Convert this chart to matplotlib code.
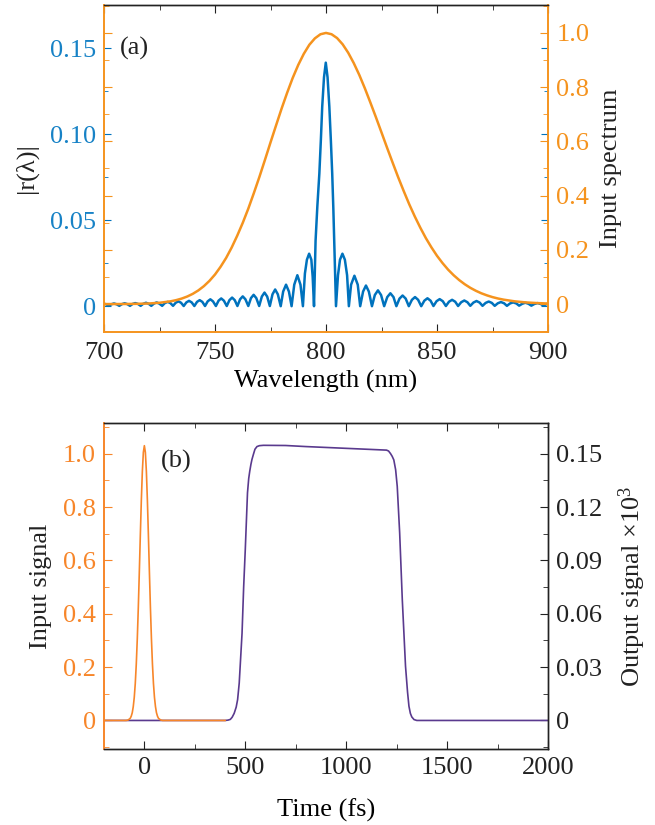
import matplotlib
matplotlib.use("Agg")
import matplotlib.pyplot as plt
from matplotlib.ticker import MultipleLocator

plt.rcParams['font.family'] = ['Liberation Serif', 'DejaVu Serif']
plt.rcParams['mathtext.fontset'] = 'custom'
plt.rcParams['mathtext.rm'] = 'Liberation Serif'
plt.rcParams['mathtext.it'] = 'Liberation Serif:italic'

# ---------------- data: panel (a) ----------------
refl_wl = [700.0, 701.0, 702.1, 703.3, 704.5, 705.7, 706.9, 708.1, 709.3, 710.5,
           711.7, 712.9, 714.1, 715.3, 716.5, 717.7, 718.9, 720.1, 721.3, 722.5,
           723.7, 724.9, 726.2, 727.4, 728.7, 729.9, 731.1, 732.3, 733.5, 734.7,
           735.9, 737.1, 738.3, 739.5, 740.7, 741.9, 743.1, 744.3, 745.5, 746.7,
           747.9, 749.1, 750.4, 751.6, 752.8, 754.0, 755.3, 756.5, 757.7, 758.9,
           760.1, 761.3, 762.5, 763.7, 765.0,
           766.2, 767.4, 768.6, 769.9, 771.1, 772.3, 773.5, 774.7,
           775.9, 777.1, 778.3, 779.6, 780.7, 782.0, 783.3, 784.5,
           785.7, 787.1, 788.5, 789.6, 790.5, 791.4, 792.4, 793.4, 794.0, 794.6,
           795.3, 796.1, 797.0, 797.7, 798.3, 799.1, 799.9, 800.7, 801.5, 802.2,
           802.8, 803.3, 803.7, 804.5,
           805.4, 806.3, 807.4, 808.5, 809.5, 810.3, 811.3, 812.8, 814.3, 815.4,
           816.7, 818.0, 819.3, 820.7, 822.0, 823.4, 824.8, 826.2,
           827.6, 829.0, 830.4, 831.7, 833.1, 834.5, 835.9, 837.3,
           838.7, 840.1, 841.5, 842.9, 844.3, 845.7, 847.1, 848.4,
           849.8, 851.2, 852.6, 854.0, 855.4, 856.8, 858.2, 859.5,
           860.9, 862.3, 863.7, 865.0, 866.4, 867.8, 869.2, 870.5,
           871.9, 873.3, 874.7, 876.0, 877.4, 878.8, 880.2, 881.5,
           882.9, 884.3, 885.7, 887.0, 888.4, 889.8, 891.2, 892.5,
           893.9, 895.3, 896.7, 898.0, 899.0, 900.0]
refl_val = [0.0014, 0.0011, 0.0002, 0.0011, 0.0016, 0.0011, 0.0002, 0.0012, 0.0017, 0.0012,
            0.0002, 0.0013, 0.0018, 0.0013, 0.0002, 0.0014, 0.0020, 0.0014, 0.0002, 0.0015,
            0.0022, 0.0015, 0.0002, 0.0018, 0.0025, 0.0018, 0.0002, 0.0020, 0.0028, 0.0020,
            0.0001, 0.0022, 0.0031, 0.0022, 0.0001, 0.0025, 0.0035, 0.0025, 0.0001, 0.0028,
            0.0040, 0.0028, 0.0001, 0.0032, 0.0045, 0.0032, 0.0001, 0.0035, 0.0050, 0.0035,
            0.0001, 0.0040, 0.0057, 0.0040, 0.0001,
            0.0047, 0.0066, 0.0047, 0.0001, 0.0056, 0.0079, 0.0056, 0.0001,
            0.0069, 0.0097, 0.0069, 0.0, 0.0085, 0.0125, 0.0085, 0.0,
            0.0125, 0.0180, 0.0125, 0.0, 0.019, 0.027, 0.0305, 0.027, 0.017, 0.0,
            0.038, 0.058, 0.077, 0.097, 0.116, 0.133, 0.1415, 0.133, 0.116, 0.096,
            0.077, 0.057, 0.038, 0.0,
            0.018, 0.027, 0.0305, 0.027, 0.018, 0.0, 0.0125, 0.0177, 0.0125, 0.0,
            0.0085, 0.0120, 0.0085, 0.0, 0.0065, 0.0092, 0.0065, 0.0,
            0.0053, 0.0075, 0.0053, 0.0, 0.0044, 0.0062, 0.0044, 0.0,
            0.0037, 0.0053, 0.0037, 0.0, 0.0032, 0.0046, 0.0032, 0.0001,
            0.0029, 0.0041, 0.0029, 0.0001, 0.0026, 0.0037, 0.0026, 0.0001,
            0.0023, 0.0033, 0.0023, 0.0002, 0.0021, 0.0030, 0.0021, 0.0002,
            0.0019, 0.0027, 0.0019, 0.0002, 0.0017, 0.0024, 0.0017, 0.0002,
            0.0016, 0.0022, 0.0016, 0.0003, 0.0014, 0.0020, 0.0014, 0.0003,
            0.0013, 0.0018, 0.0013, 0.0003, 0.0010, 0.0014]

spec_wl = [700, 705, 710, 715, 720, 725, 730, 732.5, 735, 737.5, 740, 742.5, 745, 747.5,
           750, 752.5, 755, 757.5, 760, 762.5, 765, 767.5, 770, 772.5, 775, 777.5,
           780, 782.5, 785, 787.5, 790, 792.5, 795, 797.5, 800, 802.5, 805, 807.5,
           810, 812.5, 815, 817.5, 820, 822.5, 825, 827.5, 830, 832.5, 835, 837.5,
           840, 842.5, 845, 847.5, 850, 852.5, 855, 857.5, 860, 862.5, 865, 867.5,
           870, 872.5, 875, 877.5, 880, 885, 890, 895, 900]
spec_val = [0.0000, 0.0001, 0.0003, 0.0009, 0.0021, 0.0048, 0.0102, 0.0145, 0.0203, 0.0279,
            0.0378, 0.0504, 0.0662, 0.0856, 0.109, 0.1374, 0.170, 0.2084, 0.252, 0.2996,
            0.352, 0.4093, 0.469, 0.5318, 0.596, 0.6589, 0.721, 0.7794, 0.834, 0.8820,
            0.923, 0.9564, 0.980, 0.9951, 1.000, 0.9952, 0.981, 0.958, 0.927, 0.8888,
            0.845, 0.7958, 0.743, 0.6888, 0.633, 0.5768, 0.522, 0.468, 0.417, 0.368,
            0.323, 0.2814, 0.243, 0.2090, 0.178, 0.1511, 0.127, 0.1064, 0.0885, 0.0731,
            0.060, 0.0490, 0.0397, 0.0321, 0.0257, 0.0205, 0.0163, 0.0101, 0.0061, 0.0037,
            0.0021]

# ---------------- data: panel (b) ----------------
in_t = [-200, -90, -80, -70, -65, -60, -55, -50, -45, -40, -35, -30, -25, -20, -15, -10, -5, 0,
        5, 10, 15, 20, 25, 30, 35, 40, 45, 50, 55, 60, 65, 70, 80, 90, 400]
in_val = [0.0, 0.0, 0.002, 0.008, 0.016, 0.029, 0.052, 0.087, 0.139, 0.212, 0.307, 0.423,
          0.556, 0.694, 0.825, 0.933, 1.005, 1.030,
          1.005, 0.933, 0.825, 0.694, 0.556, 0.423, 0.307, 0.212, 0.139, 0.087, 0.052,
          0.029, 0.016, 0.008, 0.002, 0.0, 0.0]

out_t = [-200, 400, 415, 426, 435, 445, 455, 462, 470, 477, 484, 492, 500, 511, 517, 522,
         528, 533, 540, 548, 558, 570, 590,
         700, 800, 900, 1000, 1100, 1200, 1210, 1220, 1228, 1236, 1245, 1253, 1265, 1278,
         1294, 1304, 1311, 1318, 1325, 1336, 1350, 2000]
out_val = [0.0, 0.0, 0.0002, 0.0006, 0.0018, 0.004, 0.0075, 0.0117, 0.021, 0.035, 0.049,
           0.075, 0.096, 0.128, 0.136, 0.140, 0.1440, 0.1467, 0.1495, 0.1525, 0.1540,
           0.1545, 0.1547,
           0.1546, 0.1540, 0.1535, 0.1530, 0.1525, 0.1520, 0.1515, 0.1500, 0.1485, 0.1465,
           0.1410, 0.1316, 0.1055, 0.068, 0.0305, 0.016, 0.008, 0.004, 0.002, 0.0005, 0.0,
           0.0]

BLUE = '#0072BD'
BLUE_TXT = '#1782C6'
ORANGE = '#F5931E'
ORANGE2 = '#F7862A'
PURPLE = '#5A3A8E'
FS = 19

fig = plt.figure(figsize=(6.55, 8.25), dpi=100)

# ---------------- panel (a) ----------------
ax1 = fig.add_axes([104/655, 1-332/825, 444/655, 327/825])
ax2 = ax1.twinx()
ax1.plot(refl_wl, refl_val, color=BLUE, lw=1.8, zorder=2)
ax2.plot(spec_wl, spec_val, color=ORANGE, lw=1.8, zorder=3)
ax1.set_xlim(700, 900)
ax1.set_ylim(-0.015, 0.175)
ax2.set_ylim(-0.103, 1.103)
ax1.xaxis.set_major_locator(MultipleLocator(50))
ax1.xaxis.set_minor_locator(MultipleLocator(25))
ax1.yaxis.set_minor_locator(MultipleLocator(0.025))
ax2.yaxis.set_minor_locator(MultipleLocator(0.1))
ax1.set_yticks([0, 0.05, 0.10, 0.15])
ax1.set_yticklabels(['0', '0.05', '0.10', '0.15'])
ax2.set_yticks([0, 0.2, 0.4, 0.6, 0.8, 1.0])
ax2.set_yticklabels(['0', '0.2', '0.4', '0.6', '0.8', '1.0'])
ax1.tick_params(axis='x', which='both', direction='in', top=True, bottom=True,
                labelsize=FS, colors='#222222', pad=7.5)
ax1.tick_params(axis='x', which='major', length=6)
ax1.tick_params(axis='x', which='minor', length=3.5)
ax1.tick_params(axis='y', which='both', direction='in', left=True, right=True,
                color=BLUE, labelcolor=BLUE_TXT, labelsize=FS, pad=6)
ax1.tick_params(axis='y', which='major', length=5)
ax1.tick_params(axis='y', which='minor', length=3)
ax2.tick_params(axis='y', which='both', direction='in', left=True, right=True,
                labelleft=False, labelright=True,
                color=ORANGE, labelcolor=ORANGE, labelsize=FS, pad=6)
ax2.tick_params(axis='y', which='major', length=6)
ax2.tick_params(axis='y', which='minor', length=3.5)
for ax in (ax1, ax2):
    for s in ('left', 'right', 'bottom'):
        ax.spines[s].set_color(ORANGE)
        ax.spines[s].set_linewidth(1.2)
    ax.spines['top'].set_color('#222222')
    ax.spines['top'].set_linewidth(1.0)
ax1.set_xlabel('Wavelength (nm)', fontsize=FS, labelpad=4)
ax1.set_ylabel('|r(λ)|', fontsize=FS, labelpad=8, color='#222222')
ax2.set_ylabel('Input spectrum', fontsize=FS, labelpad=8, color='#222222')
ax1.text(707, 0.1495, '(a)', fontsize=FS, va='center', ha='left', color='#222222')

# ---------------- panel (b) ----------------
ax3 = fig.add_axes([104/655, 1-749/825, 444/655, 326/825])
ax4 = ax3.twinx()
ax3.plot(in_t, in_val, color=ORANGE2, lw=1.2, zorder=3)
ax4.plot(out_t, out_val, color=PURPLE, lw=1.2, zorder=2)
ax3.set_zorder(ax4.get_zorder() + 1)
ax3.patch.set_visible(False)
ax3.set_xlim(-200, 2000)
ax3.set_ylim(-0.107, 1.115)
ax4.set_ylim(-0.107 * 0.15, 1.115 * 0.15)
ax3.xaxis.set_major_locator(MultipleLocator(500))
ax3.xaxis.set_minor_locator(MultipleLocator(250))
ax3.set_yticks([0, 0.2, 0.4, 0.6, 0.8, 1.0])
ax3.set_yticklabels(['0', '0.2', '0.4', '0.6', '0.8', '1.0'])
ax3.yaxis.set_minor_locator(MultipleLocator(0.1))
ax4.set_yticks([0, 0.03, 0.06, 0.09, 0.12, 0.15])
ax4.set_yticklabels(['0', '0.03', '0.06', '0.09', '0.12', '0.15'])
ax4.yaxis.set_minor_locator(MultipleLocator(0.015))
ax3.tick_params(axis='x', which='both', direction='in', top=True, bottom=True,
                labelsize=FS, colors='#222222', pad=6)
ax3.tick_params(axis='x', which='major', length=6)
ax3.tick_params(axis='x', which='minor', length=3.5)
ax3.tick_params(axis='y', which='both', direction='in', left=True, right=False,
                color=ORANGE2, labelcolor=ORANGE2, labelsize=FS, pad=6)
ax3.tick_params(axis='y', which='major', length=6)
ax3.tick_params(axis='y', which='minor', length=3.5)
ax4.tick_params(axis='y', which='both', direction='in', right=True, left=False,
                colors='#222222', labelsize=FS, pad=6)
ax4.tick_params(axis='y', which='major', length=6)
ax4.tick_params(axis='y', which='minor', length=3.5)
for ax in (ax3, ax4):
    for s in ('right', 'top', 'bottom'):
        ax.spines[s].set_color('#222222')
        ax.spines[s].set_linewidth(1.0)
    ax.spines['left'].set_color(ORANGE2)
    ax.spines['left'].set_linewidth(1.2)
ax3.set_xlabel('Time (fs)', fontsize=FS, labelpad=14)
ax3.set_ylabel('Input signal', fontsize=FS, labelpad=8, color='#222222')
ax4.set_ylabel('Output signal $\\times$10$^{3}$', fontsize=FS, labelpad=10, color='#222222')
ax3.text(80, 0.97, '(b)', fontsize=FS, va='center', ha='left', color='#222222')

fig.savefig('out.png', dpi=100)
